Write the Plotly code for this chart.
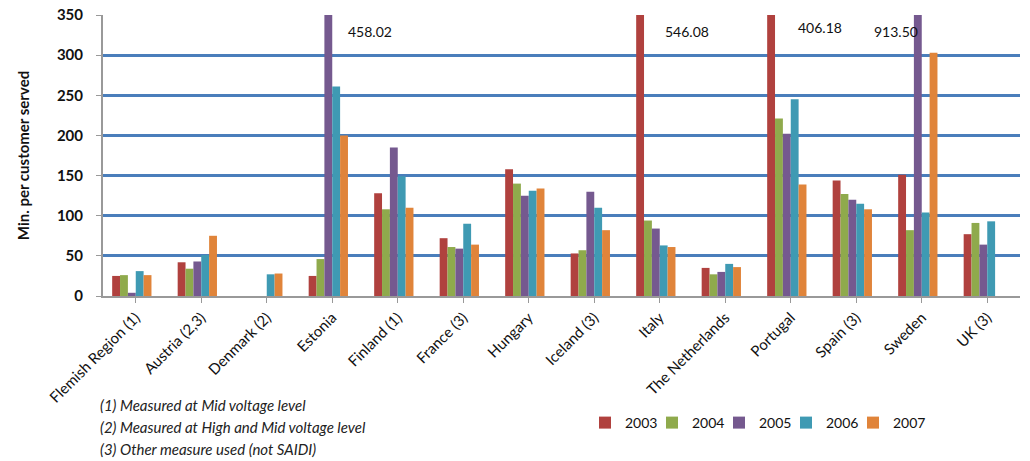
import plotly.graph_objects as go

categories = ["Flemish Region (1)", "Austria (2,3)", "Denmark (2)", "Estonia", "Finland (1)",
              "France (3)", "Hungary", "Iceland (3)", "Italy", "The Netherlands", "Portugal",
              "Spain (3)", "Sweden", "UK (3)"]
years = ["2003", "2004", "2005", "2006", "2007"]
v2003 = [25, 42, None, 25, 128, 72, 158, 53, 546.08, 35, 406.18, 144, 151, 77]
v2004 = [26, 34, None, 46, 108, 61, 140, 57, 94, 27, 221, 127, 82, 91]
v2005 = [4, 43, None, 458.02, 185, 59, 125, 130, 84, 30, 202, 120, 913.50, 64]
v2006 = [31, 51, 27, 261, 149, 90, 131, 110, 63, 40, 245, 115, 104, 93]
v2007 = [26, 75, 28, 200, 110, 64, 134, 82, 61, 36, 139, 108, 303, None]
series = [v2003, v2004, v2005, v2006, v2007]
colors = ["#B0413E", "#8FAA4C", "#75598F", "#3F9AB3", "#E0843A"]
outlined = [("Estonia", "458.02", 14, 31), ("Italy", "546.08", 3, 31),
            ("Portugal", "406.18", 5, 28), ("Sweden", "913.50", -50, 31)]
footnotes = ["(1) Measured at Mid voltage level",
             "(2) Measured at High and Mid voltage level",
             "(3) Other measure used (not SAIDI)"]

FONT = "Lato, Calibri, sans-serif"
fig = go.Figure()
for yr, vals, col in zip(years, series, colors):
    fig.add_trace(go.Bar(x=categories, y=vals, name=yr, marker_color=col,
                         marker_line_width=0))
# blank legend spacer so the last legend label is not clipped
fig.add_trace(go.Bar(x=categories[:1], y=[None], name=" ",
                     marker=dict(color="rgba(0,0,0,0)", line=dict(width=0, color="rgba(0,0,0,0)")),
                     hoverinfo="skip"))

W, H = 1030, 461
ml, mr, mt, mb = 103, 10, 15, 165
ph = H - mt - mb
pw = W - ml - mr
for cat, txt, dx, ypix in outlined:
    fig.add_annotation(x=cat, y=1 - (ypix - mt) / ph, yref="paper", text=txt,
                       showarrow=False, xanchor="left", yanchor="middle", xshift=dx,
                       font=dict(family=FONT, size=14, color="#111"))
for i, t in enumerate(footnotes):
    ypix = 405 + 22 * i
    fig.add_annotation(x=(98 - ml) / pw, xref="paper",
                       y=1 - (ypix - mt) / ph, yref="paper", text="<i>" + t + "</i>",
                       showarrow=False, xanchor="left", yanchor="middle",
                       font=dict(family=FONT, size=15, color="#222"))

fig.update_layout(
    width=W, height=H, margin=dict(l=ml, r=mr, t=mt, b=mb, autoexpand=False),
    paper_bgcolor="white", plot_bgcolor="white",
    barmode="group", bargap=0.28, bargroupgap=0.0,
    font=dict(family=FONT, color="#111"),
    legend=dict(orientation="h", x=(585 - ml) / pw, xanchor="left",
                y=1 - (423 - mt) / ph, yanchor="middle",
                font=dict(family=FONT, size=14), entrywidth=22, entrywidthmode="pixels",
                itemwidth=30, traceorder="normal"),
    xaxis=dict(tickangle=-45, tickfont=dict(family=FONT, size=15, color="#111"),
               showline=True, linecolor="#999", linewidth=2, ticks="outside",
               ticklen=5, tickcolor="#999", showgrid=False),
    yaxis=dict(range=[0, 350], dtick=50, showgrid=True, gridcolor="#4A7EBB", gridwidth=3,
               zeroline=False, showline=True, linecolor="#999", linewidth=2,
               ticks="outside", ticklen=5, tickcolor="#999", ticklabelstandoff=10,
               tickfont=dict(family=FONT, size=15, color="#111", weight="bold"),
               title=dict(text="<b>Min. per customer served</b>",
                          font=dict(family=FONT, size=15, color="#111"), standoff=24)),
)
fig.write_html("out.html")
